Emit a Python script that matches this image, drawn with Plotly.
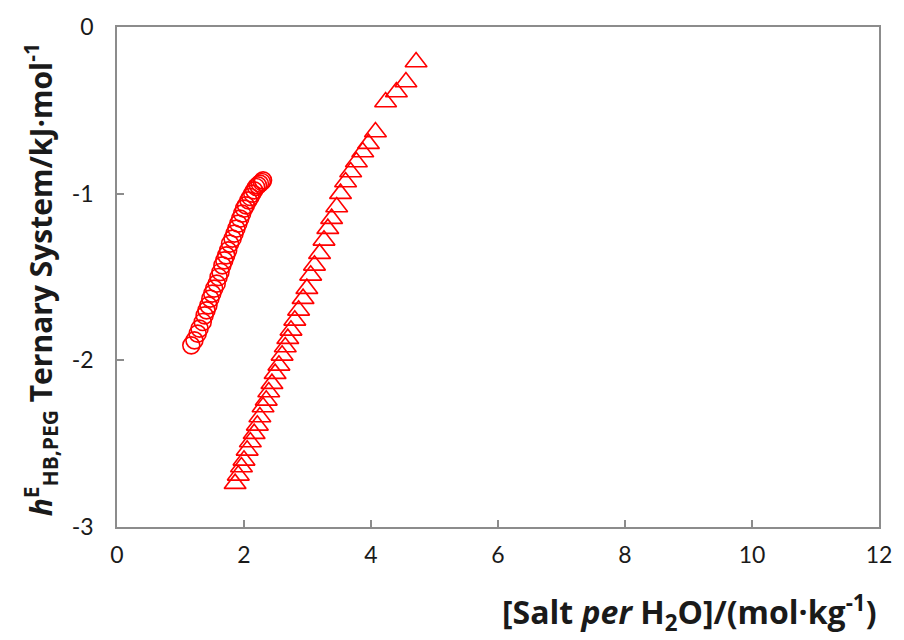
import plotly.graph_objects as go

# Circle series: salt molality vs. excess enthalpy (kJ/mol)
circle_x = [1.17, 1.22, 1.27, 1.30, 1.35, 1.38, 1.41, 1.44, 1.47, 1.50, 1.53, 1.57,
            1.60, 1.63, 1.66, 1.69, 1.72, 1.75, 1.78, 1.82, 1.85, 1.88, 1.91, 1.94,
            1.97, 2.00, 2.03, 2.07, 2.10, 2.13, 2.16, 2.19, 2.22, 2.25, 2.28, 2.30]
circle_y = [-1.91, -1.88, -1.84, -1.81, -1.77, -1.73, -1.70, -1.67, -1.63, -1.60,
            -1.57, -1.54, -1.50, -1.47, -1.43, -1.40, -1.37, -1.34, -1.30, -1.27,
            -1.24, -1.21, -1.18, -1.15, -1.12, -1.09, -1.07, -1.04, -1.02, -1.00,
            -0.98, -0.96, -0.95, -0.94, -0.93, -0.92]

# Triangle series
tri_x = [1.86, 1.91, 1.96, 2.00, 2.05, 2.10, 2.16, 2.21, 2.25, 2.30, 2.35, 2.39,
         2.44, 2.49, 2.55, 2.60, 2.65, 2.69, 2.74, 2.80, 2.86, 2.93, 2.99, 3.05,
         3.11, 3.19, 3.26, 3.32, 3.38, 3.46, 3.52, 3.60, 3.68, 3.77, 3.87, 3.96,
         4.07, 4.23, 4.40, 4.55, 4.71]
tri_y = [-2.74, -2.69, -2.64, -2.60, -2.54, -2.49, -2.44, -2.39, -2.34, -2.28,
         -2.24, -2.19, -2.14, -2.08, -2.03, -1.97, -1.92, -1.87, -1.82, -1.76,
         -1.70, -1.63, -1.57, -1.49, -1.43, -1.36, -1.28, -1.21, -1.15, -1.08,
         -1.00, -0.93, -0.87, -0.81, -0.75, -0.70, -0.63, -0.45, -0.39, -0.33,
         -0.21]

x_ticks = [0, 2, 4, 6, 8, 10, 12]
y_ticks = [0, -1, -2, -3]

RED = "#ff0000"
AXIS = "#8c8c8c"
TICK_FONT = "Lato, 'Open Sans', sans-serif"
TITLE_FONT = "'Open Sans', Lato, sans-serif"

fig = go.Figure()
fig.add_trace(go.Scatter(
    x=circle_x, y=circle_y, mode="markers",
    marker=dict(symbol="circle-open", size=17, color=RED, line=dict(width=1.6, color=RED)),
    showlegend=False,
))
fig.add_trace(go.Scatter(
    x=tri_x, y=tri_y, mode="markers",
    marker=dict(symbol="triangle-up-open", size=19, color=RED, line=dict(width=1.6, color=RED)),
    showlegend=False,
))

fig.update_layout(
    width=904, height=640,
    margin=dict(l=117, r=20, t=27, b=113),
    paper_bgcolor="white", plot_bgcolor="white",
    font=dict(family=TICK_FONT, color="#1a1a1a", size=20),
    xaxis=dict(
        range=[0, 12], tickvals=x_ticks, ticktext=[str(v) for v in x_ticks],
        showgrid=False, zeroline=False,
        showline=True, linecolor=AXIS, linewidth=1.5, mirror=True,
        ticks="inside", ticklen=7, tickcolor=AXIS, tickwidth=1.5,
        tickfont=dict(size=23, family=TICK_FONT), ticklabelstandoff=7,
    ),
    yaxis=dict(
        range=[-3, 0], tickvals=y_ticks, ticktext=[str(v) for v in y_ticks],
        showgrid=False, zeroline=False,
        showline=True, linecolor=AXIS, linewidth=1.5, mirror=True,
        ticks="inside", ticklen=7, tickcolor=AXIS, tickwidth=1.5,
        tickfont=dict(size=23, family=TICK_FONT), ticklabelstandoff=17,
    ),
    annotations=[
        dict(
            text="<b><i>h</i><sup>E</sup><sub>HB,PEG</sub> Ternary System/kJ·mol<sup>-1</sup></b>",
            xref="paper", yref="paper", x=-0.1, y=0.495,
            xanchor="center", yanchor="middle", textangle=-90, showarrow=False,
            font=dict(size=30, family=TITLE_FONT, color="#1a1a1a"),
        ),
        dict(
            text="<b>[Salt <i>per</i> H<sub>2</sub>O]/(mol·kg<sup>-1</sup>)</b>",
            xref="paper", yref="paper", x=1.0, y=-0.115,
            xanchor="right", yanchor="top", showarrow=False,
            font=dict(size=32, family=TITLE_FONT, color="#1a1a1a"),
        ),
    ],
)

fig.write_html("out.html")
